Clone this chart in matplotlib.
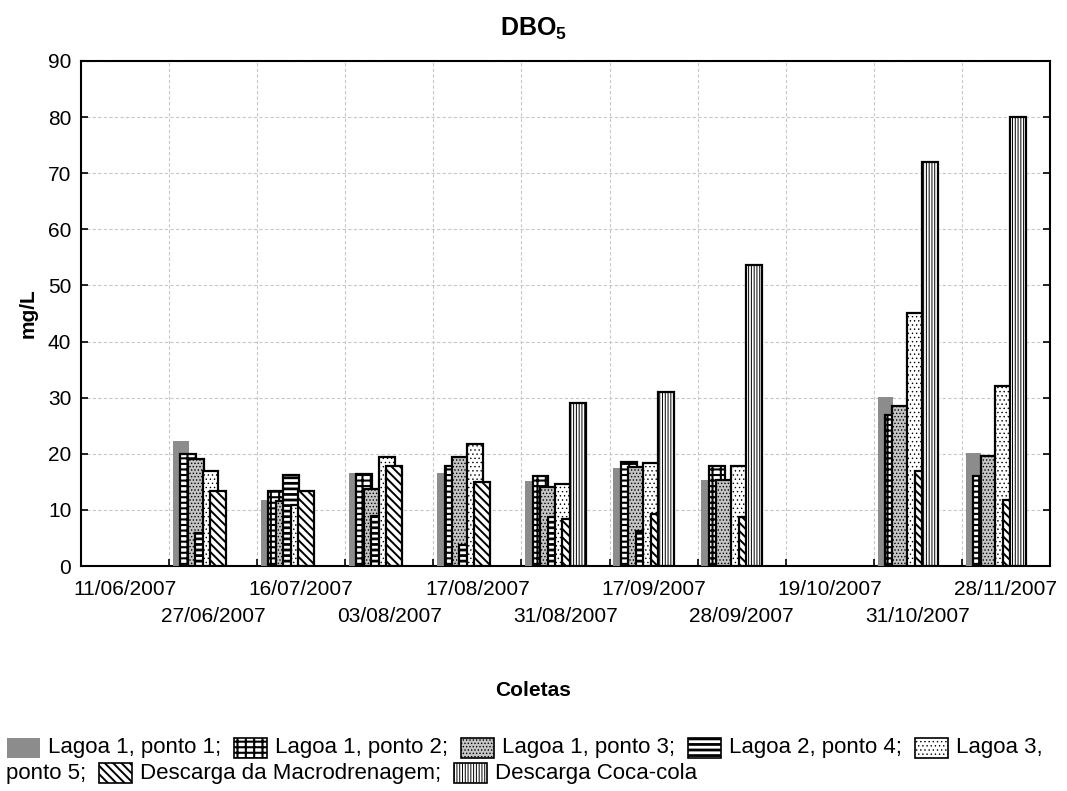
import numpy as np
import matplotlib
matplotlib.use('Agg')
import matplotlib.pyplot as plt
from matplotlib.patches import Rectangle
from matplotlib.transforms import IdentityTransform

plt.rcParams['font.family'] = ['Liberation Sans', 'DejaVu Sans']
plt.rcParams['mathtext.fontset'] = 'custom'
plt.rcParams['mathtext.rm'] = 'Liberation Sans'
plt.rcParams['mathtext.bf'] = 'Liberation Sans:bold'

nan = np.nan
dates = ['11/06/2007', '27/06/2007', '16/07/2007', '03/08/2007', '17/08/2007', '31/08/2007',
         '17/09/2007', '28/09/2007', '19/10/2007', '31/10/2007', '28/11/2007']
labels = ['Lagoa 1, ponto 1', 'Lagoa 1, ponto 2', 'Lagoa 1, ponto 3', 'Lagoa 2, ponto 4',
          'Lagoa 3, ponto 5', 'Descarga da Macrodrenagem', 'Descarga Coca-cola']

lagoa1_p1 = [nan, 22.3, 11.8, 16.5, 16.6, 15.2, 17.4, 15.3, nan, 30.2, 20.2]
lagoa1_p2 = [nan, 20.0, 13.3, 16.4, 17.8, 16.0, 18.6, 17.8, nan, 27.0, 16.0]
lagoa1_p3 = [nan, 19.0, 11.5, 13.7, 19.5, 14.1, 17.7, 15.4, nan, 28.5, 19.6]
lagoa2_p4 = [nan, 5.8, 16.2, 9.0, 3.8, 8.8, 6.2, nan, nan, nan, nan]
lagoa3_p5 = [nan, 17.0, 10.9, 19.4, 21.8, 14.6, 18.4, 17.8, nan, 45.0, 32.1]
macro = [nan, 13.4, 13.4, 17.8, 15.0, 8.3, 9.2, 8.8, nan, 17.0, 11.8]
coca = [nan, nan, nan, nan, nan, 29.0, 31.0, 53.6, nan, 72.0, 80.0]
series = [lagoa1_p1, lagoa1_p2, lagoa1_p3, lagoa2_p4, lagoa3_p5, macro, coca]

# fill / hatch for each series (the hatch takes the colour of 'hcol')
styles = [
    dict(face='#8c8c8c', hatch=None, hcol='#8c8c8c', hlw=1.0, edge=None),
    dict(face='white', hatch='||---', hcol='black', hlw=1.5, edge='black'),
    dict(face='#c4c4c4', hatch='.....', hcol='black', hlw=0.6, edge='black'),
    dict(face='black', hatch='---', hcol='white', hlw=2.0, edge='black'),
    dict(face='white', hatch='....', hcol='black', hlw=0.5, edge='black'),
    dict(face='white', hatch='\\\\\\\\', hcol='black', hlw=1.4, edge='black'),
    dict(face='white', hatch='||||||', hcol='black', hlw=0.7, edge='black'),
]


def hatch_lw(patch, lw):
    if hasattr(patch, 'set_hatch_linewidth'):
        patch.set_hatch_linewidth(lw)


W, H = 1067, 791
fig = plt.figure(figsize=(W / 100, H / 100), dpi=100)
ax = fig.add_axes([81 / W, 1 - 566 / H, (1050 - 81) / W, (566 - 61) / H])

first, step, width = 0.042, 0.0846, 0.18
idx = np.arange(len(dates))
for j, (vals, st) in enumerate(zip(series, styles)):
    vals = np.array(vals)
    ok = ~np.isnan(vals)
    x = idx[ok] - 0.5 + first + j * step
    with plt.rc_context({'hatch.linewidth': st['hlw']}):
        bars = ax.bar(x, vals[ok], width, align='edge', color=st['face'], edgecolor=st['hcol'],
                      linewidth=0, hatch=st['hatch'], zorder=3 + j)
    for b in bars:
        hatch_lw(b, st['hlw'])
    if st['edge']:
        ax.bar(x, vals[ok], width, align='edge', facecolor='none', edgecolor=st['edge'],
               linewidth=1.6, zorder=3 + j)

ax.set_xlim(-0.5, len(dates) - 0.5)
ax.set_ylim(0, 90)
ax.set_yticks(np.arange(0, 91, 10))

# dates on two rows: even ones on the axis, odd ones on a secondary axis further down
ax.set_xticks(idx[::2])
ax.set_xticklabels(dates[::2])
ax.set_xticks(np.arange(0.5, len(dates) - 0.5, 1), minor=True)
ax.tick_params(axis='x', which='major', length=0, pad=10, labelsize=15)
ax.tick_params(axis='x', which='minor', direction='in', length=5, width=1.2)
sec = ax.secondary_xaxis('bottom')
sec.set_xticks(idx[1::2])
sec.set_xticklabels(dates[1::2])
sec.tick_params(length=0, pad=29.5, labelsize=15)
sec.spines['bottom'].set_visible(False)

ax.tick_params(axis='y', direction='in', length=5, width=1.2, right=True, pad=7, labelsize=15)
ax.grid(axis='y', which='major', color='#c8c8c8', linestyle=(0, (3, 2)), linewidth=0.8)
ax.grid(axis='x', which='minor', color='#c8c8c8', linestyle=(0, (3, 2)), linewidth=0.8)
ax.set_axisbelow(True)
for s in ax.spines.values():
    s.set_linewidth(1.5)

fig.text(0.5, 1 - 36 / H, r'$\mathbf{DBO}_\mathbf{5}$', ha='center', va='baseline', fontsize=18)
fig.text(28 / W, 1 - 313 / H, 'mg/L', rotation=90, ha='center', va='center', fontsize=15, weight='bold')
fig.text(0.5, 1 - 690 / H, 'Coletas', ha='center', va='center', fontsize=15, weight='bold')

# legend written as flowing text with small swatches
renderer = fig.canvas.get_renderer()
lines_y = [H - 748, H - 773]
pw, ph = 33, 20
lfs = 16
xmax = W - 8


def text_width(s):
    t = fig.text(0, 0, s, transform=IdentityTransform(), fontsize=lfs)
    w = t.get_window_extent(renderer).width
    t.remove()
    return w


x, line = 7, 0
for k, (lab, st) in enumerate(zip(labels, styles)):
    y = lines_y[line]
    with plt.rc_context({'hatch.linewidth': st['hlw']}):
        r = Rectangle((x, y - ph / 2), pw, ph, transform=IdentityTransform(), facecolor=st['face'],
                      edgecolor=st['hcol'], linewidth=0, hatch=st['hatch'])
    hatch_lw(r, st['hlw'])
    fig.add_artist(r)
    if st['edge']:
        fig.add_artist(Rectangle((x, y - ph / 2), pw, ph, transform=IdentityTransform(),
                                 facecolor='none', edgecolor=st['edge'], linewidth=1.2))
    x += pw + 8
    words = (lab + (';' if k < len(labels) - 1 else '')).split(' ')
    n = len(words)
    while n > 1 and x + text_width(' '.join(words[:n])) > xmax:
        n -= 1
    chunk = ' '.join(words[:n])
    fig.text(x, lines_y[line], chunk, transform=IdentityTransform(), va='center', fontsize=lfs)
    x += text_width(chunk)
    if n < len(words):
        line += 1
        x = 6
        chunk = ' '.join(words[n:])
        fig.text(x, lines_y[line], chunk, transform=IdentityTransform(), va='center', fontsize=lfs)
        x += text_width(chunk)
    x += 13

fig.savefig('out.png', dpi=100)
